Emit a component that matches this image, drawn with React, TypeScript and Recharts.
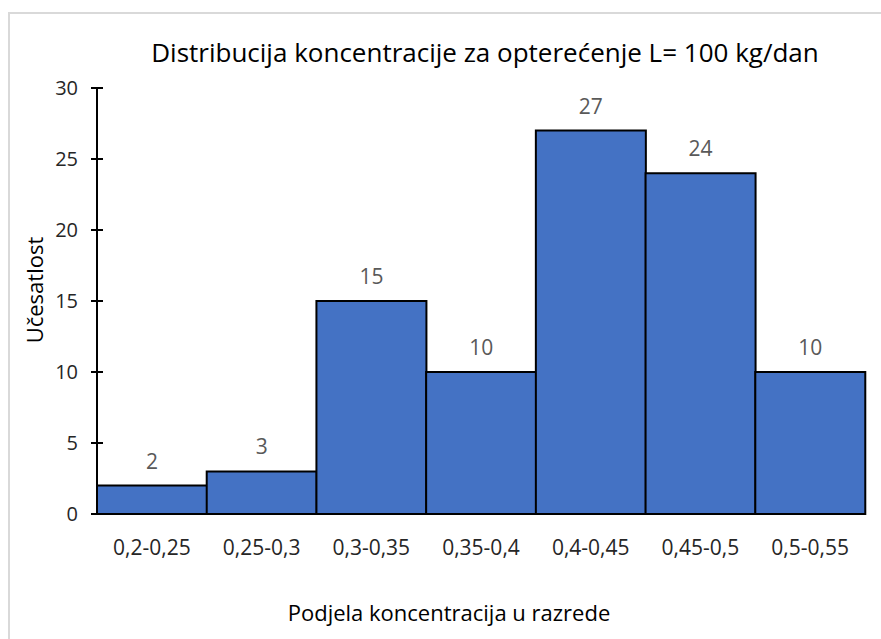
import { Bar, BarChart, LabelList, XAxis, YAxis } from 'recharts';

const categories = ['0,2-0,25', '0,25-0,3', '0,3-0,35', '0,35-0,4', '0,4-0,45', '0,45-0,5', '0,5-0,55'];
const counts = [2, 3, 15, 10, 27, 24, 10];
const yTicks = [0, 5, 10, 15, 20, 25, 30];

const data = categories.map((name, i) => ({ name, value: counts[i] }));

const font = '"Open Sans", sans-serif';
const Y_TICK_SIZE = 6;
const Y_TICK_MARGIN = 13;

// y tick that crosses the axis line, like excel's "cross" tick marks
const YTick = (props: any) => {
  const { x, y, payload } = props;
  const axisX = x + Y_TICK_SIZE + Y_TICK_MARGIN;
  return (
    <g>
      <line x1={axisX - 6} x2={axisX + 6} y1={y} y2={y} stroke="#000" strokeWidth={2} />
      <text x={x} y={y} dy="0.355em" textAnchor="end" fill="#262626" fontSize={20} fontFamily={font}>
        {payload.value}
      </text>
    </g>
  );
};

export default function App() {
  return (
    <div style={{ position: 'absolute', left: 0, top: 0, width: 881, height: 639, background: '#fff', fontFamily: font, overflow: 'hidden' }}>
      <div style={{ position: 'absolute', left: 8, top: 12, width: 900, height: 700, border: '2px solid #d9d9d9', boxSizing: 'border-box' }} />
      <div style={{ position: 'absolute', left: 0, top: 34, width: 970, textAlign: 'center', fontSize: 26, color: '#000' }}>
        Distribucija koncentracije za opterećenje L= 100 kg/dan
      </div>
      <div style={{ position: 'absolute', left: 34, top: 290, transform: 'translate(-50%, -50%) rotate(-90deg)', fontSize: 22, whiteSpace: 'nowrap', color: '#000' }}>
        Učesatlost
      </div>
      <div style={{ position: 'absolute', left: 0, top: 597, width: 898, textAlign: 'center', fontSize: 22, color: '#000' }}>
        Podjela koncentracija u razrede
      </div>
      <div style={{ position: 'absolute', left: 0, top: 0 }}>
        <BarChart width={881} height={639} data={data} barCategoryGap={0} margin={{ top: 88, right: 16, bottom: 95, left: 37 }}>
          <XAxis dataKey="name" height={30} tickLine={false} tickSize={0} tickMargin={26} axisLine={{ stroke: '#000', strokeWidth: 2 }} tick={{ fill: '#262626', fontSize: 21, fontFamily: font }} interval={0} />
          <YAxis width={60} domain={[0, 30]} ticks={yTicks} tickSize={Y_TICK_SIZE} tickMargin={Y_TICK_MARGIN} axisLine={{ stroke: '#000', strokeWidth: 2 }} tickLine={false} tick={<YTick />} />
          <Bar dataKey="value" fill="#4472C4" stroke="#000" strokeWidth={2} isAnimationActive={false}>
            <LabelList dataKey="value" position="top" offset={17} fill="#595959" fontSize={21} fontFamily={font} />
          </Bar>
        </BarChart>
      </div>
    </div>
  );
}
